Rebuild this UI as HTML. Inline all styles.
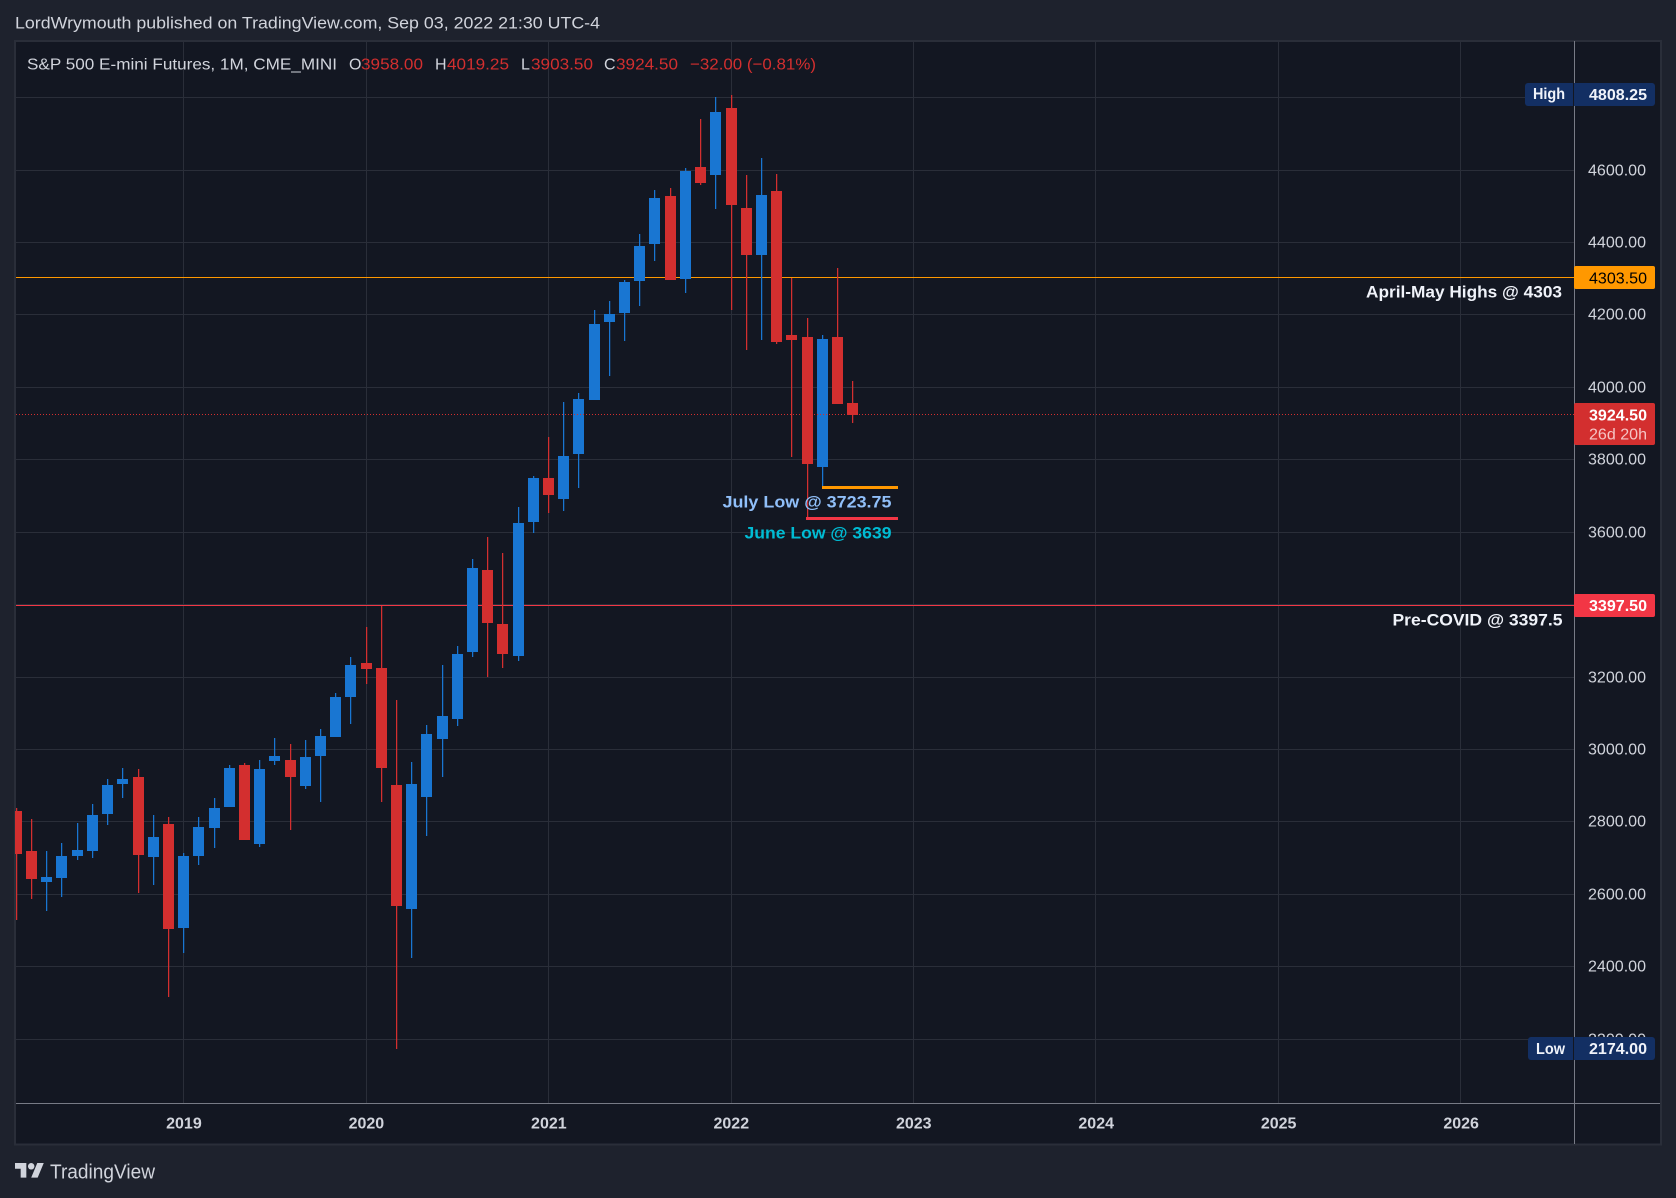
<!DOCTYPE html>
<html lang="en">
<head>
<meta charset="utf-8">
<title>S&amp;P 500 E-mini Futures chart</title>
<style>
html,body{margin:0;padding:0;background:#1e222d;}
svg{display:block;}
text{font-family:"Liberation Sans",Arial,sans-serif;}
</style>
</head>
<body>
<svg id="chart" xmlns="http://www.w3.org/2000/svg" width="1676" height="1198" viewBox="0 0 1676 1198">
  <rect x="0" y="0" width="1676" height="1198" fill="#1e222d"/>
  <text x="15" y="28.5" font-size="17" fill="#d1d4dc" textLength="585" lengthAdjust="spacingAndGlyphs">LordWrymouth published on TradingView.com, Sep 03, 2022 21:30 UTC-4</text>
  <rect x="15" y="41" width="1646" height="1103.5" fill="#131722" stroke="#2a2e39" stroke-width="2"/>
  <defs><clipPath id="plot-clip"><rect x="15" y="41" width="1559" height="1062"/></clipPath></defs>
  <g id="grid"></g>
  <rect x="16" y="277" width="1558" height="1" fill="#ff9800"/>
  <rect x="16" y="605" width="1558" height="1" fill="#f23645"/>
  <g id="candles" clip-path="url(#plot-clip)"></g>
  <line x1="16" y1="414.5" x2="1574" y2="414.5" stroke="#d32f2f" stroke-width="1" stroke-dasharray="1 2"/>
  <rect x="822" y="486" width="76" height="3" fill="#ff9800"/>
  <rect x="806" y="517" width="92" height="3" fill="#f23645"/>
  <rect x="1574" y="41" width="1" height="1103" fill="#787b86"/>
  <rect x="16" y="1103" width="1644" height="1" fill="#787b86"/>
  <g id="price-axis"></g>
  <g id="time-axis"></g>

  <g font-size="16">
    <text x="27" y="69.5" fill="#d1d4dc" textLength="310" lengthAdjust="spacingAndGlyphs">S&amp;P 500 E-mini Futures, 1M, CME_MINI</text>
    <text x="349" y="69.5" fill="#d1d4dc">O</text>
    <text x="361" y="69.5" fill="#d32f2f" textLength="62" lengthAdjust="spacingAndGlyphs">3958.00</text>
    <text x="435" y="69.5" fill="#d1d4dc">H</text>
    <text x="447" y="69.5" fill="#d32f2f" textLength="62" lengthAdjust="spacingAndGlyphs">4019.25</text>
    <text x="521" y="69.5" fill="#d1d4dc">L</text>
    <text x="531" y="69.5" fill="#d32f2f" textLength="62" lengthAdjust="spacingAndGlyphs">3903.50</text>
    <text x="604" y="69.5" fill="#d1d4dc">C</text>
    <text x="616" y="69.5" fill="#d32f2f" textLength="62" lengthAdjust="spacingAndGlyphs">3924.50</text>
    <text x="690" y="69.5" fill="#d32f2f" textLength="126" lengthAdjust="spacingAndGlyphs">−32.00 (−0.81%)</text>
  </g>

  <text x="1366" y="297.5" font-size="17" font-weight="bold" fill="#f0f3fa" textLength="196" lengthAdjust="spacingAndGlyphs">April-May Highs @ 4303</text>
  <text x="1392.5" y="625.5" font-size="17" font-weight="bold" fill="#f0f3fa" textLength="170" lengthAdjust="spacingAndGlyphs">Pre-COVID @ 3397.5</text>
  <text x="722.5" y="507.5" font-size="17" font-weight="bold" fill="#90bff9" textLength="169" lengthAdjust="spacingAndGlyphs">July Low @ 3723.75</text>
  <text x="744.5" y="538.5" font-size="17" font-weight="bold" fill="#00bcd4" textLength="147" lengthAdjust="spacingAndGlyphs">June Low @ 3639</text>

  <g>
    <rect x="1525" y="83" width="130" height="23" rx="3" fill="#132f63"/>
    <rect x="1573" y="83" width="1" height="23" fill="#131722"/>
    <text x="1533" y="99" font-size="16" font-weight="bold" fill="#f0f3fa" textLength="32" lengthAdjust="spacingAndGlyphs">High</text>
    <text x="1589" y="100" font-size="16" font-weight="bold" fill="#f0f3fa" textLength="58" lengthAdjust="spacingAndGlyphs">4808.25</text>
  </g>
  <g>
    <rect x="1528" y="1037" width="127" height="23" rx="3" fill="#132f63"/>
    <rect x="1573" y="1037" width="1" height="23" fill="#131722"/>
    <text x="1536" y="1054" font-size="16" font-weight="bold" fill="#f0f3fa" textLength="29" lengthAdjust="spacingAndGlyphs">Low</text>
    <text x="1589" y="1054" font-size="16" font-weight="bold" fill="#f0f3fa" textLength="58" lengthAdjust="spacingAndGlyphs">2174.00</text>
  </g>
  <g>
    <rect x="1574" y="266" width="81" height="23" rx="2" fill="#ff9800"/>
    <text x="1589" y="283.5" font-size="16" fill="#000000" textLength="58" lengthAdjust="spacingAndGlyphs">4303.50</text>
  </g>
  <g>
    <rect x="1574" y="403" width="81" height="42" rx="2" fill="#d32f2f"/>
    <text x="1589" y="420.5" font-size="16" font-weight="bold" fill="#ffffff" textLength="58" lengthAdjust="spacingAndGlyphs">3924.50</text>
    <text x="1589" y="439.5" font-size="16" fill="#f5c4c4" textLength="58" lengthAdjust="spacingAndGlyphs">26d 20h</text>
  </g>
  <g>
    <rect x="1574" y="594" width="81" height="23" rx="2" fill="#f23645"/>
    <text x="1589" y="611" font-size="16" font-weight="bold" fill="#ffffff" textLength="58" lengthAdjust="spacingAndGlyphs">3397.50</text>
  </g>

  <g>
    <g transform="translate(15 1159.8) scale(0.81)" fill="#d1d4dc">
      <path d="M14 22H7V11H0V4h14v18zM28 22h-8l7.5-18h8L28 22z"/>
      <circle cx="20" cy="8" r="4"/>
    </g>
    <text x="50" y="1178.5" font-size="20" fill="#d1d4dc" textLength="105" lengthAdjust="spacingAndGlyphs">TradingView</text>
  </g>
</svg>
<script>
const months = ['2018-02','2018-03','2018-04','2018-05','2018-06','2018-07','2018-08','2018-09','2018-10','2018-11','2018-12',
  '2019-01','2019-02','2019-03','2019-04','2019-05','2019-06','2019-07','2019-08','2019-09','2019-10','2019-11','2019-12',
  '2020-01','2020-02','2020-03','2020-04','2020-05','2020-06','2020-07','2020-08','2020-09','2020-10','2020-11','2020-12',
  '2021-01','2021-02','2021-03','2021-04','2021-05','2021-06','2021-07','2021-08','2021-09','2021-10','2021-11','2021-12',
  '2022-01','2022-02','2022-03','2022-04','2022-05','2022-06','2022-07','2022-08','2022-09'];
const opens = [2831,2720,2635,2646,2707,2720,2822,2905,2925,2704,2795,
  2508,2707,2784,2842,2958,2740,2969,2972,2900,2983,3035,3146,
  3240,3226,2903,2560,2869,3030,3085,3270,3496,3347,3259,3629,
  3750,3692,3817,3966,4181,4206,4295,4397,4529,4300,4609,4587,
  4772,4496,4366,4543,4145,4140,3781,4140,3958];
const highs = [2839,2809,2720,2742,2798,2850,2919,2950,2947,2820,2814,
  2715,2814,2867,2958,2963,2972,3032,3016,3027,3057,3157,3256,
  3339,3397.5,3137,2966,3068,3234,3287,3527,3588,3543,3670,3756,
  3864,3960,3985,4214,4239,4297,4424,4546,4551,4607,4742,4803,
  4808.25,4587,4634,4590,4303.5,4192,4145,4330,4019.25];
const lows = [2530,2588,2555,2593,2696,2701,2792,2867,2604,2626,2317,
  2439,2682,2729,2842,2751,2731,2958,2778,2892,2856,3035,3071,
  3182,2856,2174,2425,2762,2925,3066,3256,3201,3226,3245,3599,
  3654,3659,3723,3966,4032,4129,4226,4350,4297,4261,4560,4493,
  4214,4104,4132,4121,3808,3639,3723.75,3955,3903.5];
const closes = [2712,2643,2649,2707,2723,2820,2903,2919,2709,2759,2505,
  2707,2787,2839,2950,2751,2947,2983,2925,2980,3038,3146,3234,
  3223,2950,2568,2905,3043,3093,3264,3502,3350,3264,3626,3750,
  3704,3811,3969,4176,4203,4292,4391,4524,4297,4598,4565,4761,
  4504,4366,4532,4126,4132,3789,4134,3955,3924.5];
const priceTicks = [4600,4400,4200,4000,3800,3600,3200,3000,2800,2600,2400,2200];
const gridPrices = [4800,4600,4400,4200,4000,3800,3600,3400,3200,3000,2800,2600,2400,2200];
const yearTickMonths = ['2019-01','2020-01','2021-01','2022-01','2023-01','2024-01','2025-01','2026-01'];
const yearTickLabels = ['2019','2020','2021','2022','2023','2024','2025','2026'];

const SVG_NS = 'http://www.w3.org/2000/svg';
const UP_COLOR = '#1976d2';
const DOWN_COLOR = '#d32f2f';
const GRID_COLOR = '#2a2e39';
const AXIS_TEXT = '#d1d4dc';

function monthIndex(label) {
  const parts = label.split('-');
  return (Number(parts[0]) - 2018) * 12 + Number(parts[1]) - 2;
}
function xScale(index) {
  return 16.38 + index * 15.2047;
}
function yScale(price) {
  return 170.4 + (4600 - price) * 0.36208;
}
function make(tag, attrs, parent) {
  const el = document.createElementNS(SVG_NS, tag);
  Object.keys(attrs).forEach(function (k) { el.setAttribute(k, attrs[k]); });
  parent.appendChild(el);
  return el;
}

const gridGroup = document.getElementById('grid');
gridPrices.forEach(function (price) {
  const row = Math.floor(yScale(price) - 0.3);
  const el = make('rect', { x: 16, y: row, width: 1558, height: 1, fill: GRID_COLOR }, gridGroup);
  
  
});
yearTickMonths.forEach(function (m) {
  const col = Math.floor(xScale(monthIndex(m)));
  const el = make('rect', { x: col, y: 41, width: 1, height: 1062, fill: GRID_COLOR }, gridGroup);
  
  
});

const priceAxisGroup = document.getElementById('price-axis');
priceTicks.forEach(function (price) {
  const row = Math.floor(yScale(price) - 0.3);
  const el = make('text', { x: 1588, y: row + 5.5, 'font-size': 16, fill: AXIS_TEXT, textLength: 58, lengthAdjust: 'spacingAndGlyphs' }, priceAxisGroup);
  
  
  el.textContent = price.toFixed(2);
});

const timeAxisGroup = document.getElementById('time-axis');
yearTickMonths.forEach(function (m, idx) {
  const el = make('text', { x: xScale(monthIndex(m)) + 0.3, y: 1128.5, 'font-size': 16, 'font-weight': 'bold', fill: AXIS_TEXT, 'text-anchor': 'middle' }, timeAxisGroup);
  
  
  el.textContent = yearTickLabels[idx];
});

const candleGroup = document.getElementById('candles');
months.forEach(function (month, i) {
  const col = Math.floor(xScale(monthIndex(month)));
  const up = closes[i] >= opens[i];
  const color = up ? UP_COLOR : DOWN_COLOR;
  const wickTop = Math.round(yScale(highs[i]));
  const wickBottom = Math.round(yScale(lows[i]));
  const bodyTop = Math.round(yScale(Math.max(opens[i], closes[i])));
  const bodyBottom = Math.round(yScale(Math.min(opens[i], closes[i])));
  const wick = make('rect', { x: col, y: wickTop, width: 1.25, height: Math.max(1, wickBottom - wickTop), fill: color }, candleGroup);
  
  
  const body = make('rect', { x: col - 5, y: bodyTop, width: 11, height: Math.max(1, bodyBottom - bodyTop), fill: color }, candleGroup);
  
  
});
</script>
</body>
</html>
